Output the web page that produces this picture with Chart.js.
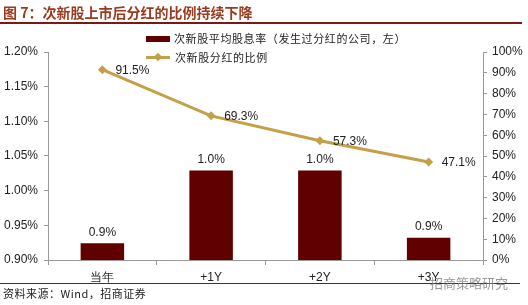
<!DOCTYPE html>
<html><head><meta charset="utf-8">
<script src="https://cdn.jsdelivr.net/npm/chart.js@4.4.1/dist/chart.umd.min.js"></script>
<style>
html,body{margin:0;padding:0;background:#fff;width:528px;height:305px;overflow:hidden;}
#wrap{position:relative;width:528px;height:305px;}
canvas{position:absolute;left:0;top:0;}
.t{position:absolute;white-space:nowrap;}
</style></head>
<body><div id="wrap">
<canvas id="c" width="528" height="305"></canvas>
<div class="t" style="left:3px;top:3px;font:bold 14px 'Noto Sans CJK SC';color:#9a3a1e;line-height:18px;">图 7：次新股上市后分红的比例持续下降</div>
<div style="position:absolute;left:0;top:22px;width:522px;height:2px;background:#7a1a12;"></div>
<div style="position:absolute;left:146px;top:36px;width:24px;height:6px;background:#600000;"></div>
<div class="t" style="left:174px;top:30px;font:11px 'Noto Sans CJK SC';letter-spacing:0.6px;color:#222;line-height:16px;">次新股平均股息率（发生过分红的公司，左）</div>
<div style="position:absolute;left:146px;top:56px;width:24px;height:3px;background:#c4a046;"></div>
<div style="position:absolute;left:155px;top:54px;width:6px;height:6px;background:#c4a046;transform:rotate(45deg);"></div>
<div class="t" style="left:175px;top:49px;font:11px 'Noto Sans CJK SC';letter-spacing:0.6px;color:#222;line-height:16px;">次新股分红的比例</div>
<div style="position:absolute;left:0;top:283px;width:520px;height:1px;background:#7a1a12;"></div>
<div class="t" style="left:3px;top:285px;font:11px 'Noto Sans CJK SC';letter-spacing:0.5px;color:#222;line-height:16px;">资料来源：Wind，招商证券</div>
<div class="t" style="left:430px;top:274px;font:13px 'Noto Sans CJK SC';color:rgba(120,120,120,0.75);line-height:18px;">招商策略研究</div>
</div>
<script>
const categories = ['当年', '+1Y', '+2Y', '+3Y'];
const dividendYield = [0.924, 1.029, 1.029, 0.932];
const yieldLabels = ['0.9%', '1.0%', '1.0%', '0.9%'];
const payoutRatio = [91.5, 69.3, 57.3, 47.1];
const payoutLabels = ['91.5%', '69.3%', '57.3%', '47.1%'];
const leftTicks = [0.90, 0.95, 1.00, 1.05, 1.10, 1.15, 1.20];
const rightTicks = [0, 10, 20, 30, 40, 50, 60, 70, 80, 90, 100];

const labelPlugin = {
  id: 'vals',
  afterDatasetsDraw(chart) {
    const ctx = chart.ctx;
    ctx.save();
    ctx.font = '12px "Liberation Sans", Arial';
    ctx.fillStyle = '#222';
    ctx.textBaseline = 'middle';
    chart.getDatasetMeta(0).data.forEach((el, i) => {
      ctx.textAlign = 'center';
      ctx.fillText(yieldLabels[i], el.x, el.y - 11);
    });
    chart.getDatasetMeta(1).data.forEach((el, i) => {
      ctx.textAlign = 'left';
      ctx.fillText(payoutLabels[i], el.x + 13, el.y + 1);
    });
    ctx.restore();
  }
};

const tickFont = { family: '"Liberation Sans", Arial', size: 12 };
new Chart(document.getElementById('c'), {
  data: {
    labels: categories,
    datasets: [
      { type: 'bar', label: '次新股平均股息率（发生过分红的公司，左）', data: dividendYield, yAxisID: 'y',
        backgroundColor: '#600000', categoryPercentage: 1, barPercentage: 0.4, order: 2 },
      { type: 'line', label: '次新股分红的比例', data: payoutRatio, yAxisID: 'y1',
        borderColor: '#c4a046', backgroundColor: '#c4a046', borderWidth: 3,
        pointStyle: 'rectRot', pointRadius: 4.5, pointBorderWidth: 0, tension: 0, order: 1 }
    ]
  },
  options: {
    responsive: false, animation: false, devicePixelRatio: 1,
    layout: { padding: { top: 52, left: 0, right: 0, bottom: 0 } },
    plugins: { legend: { display: false }, tooltip: { enabled: false } },
    scales: {
      x: {
        grid: { offset: true, drawOnChartArea: false, drawTicks: true, tickLength: 5, color: '#999' },
        border: { color: '#999' },
        ticks: { font: tickFont, color: '#222', padding: 5 },
        afterFit(s) { s.height = 45; }
      },
      y: {
        position: 'left', min: 0.9, max: 1.2,
        afterBuildTicks(s) { s.ticks = leftTicks.map(v => ({ value: v })); },
        grid: { drawOnChartArea: false, drawTicks: true, tickLength: 4, color: '#999' },
        border: { color: '#999' },
        ticks: { font: tickFont, color: '#222', padding: 6, callback: v => v.toFixed(2) + '%' },
        afterFit(s) { s.width = 48; }
      },
      y1: {
        position: 'right', min: 0, max: 100,
        afterBuildTicks(s) { s.ticks = rightTicks.map(v => ({ value: v })); },
        grid: { drawOnChartArea: false, drawTicks: true, tickLength: 4, color: '#999' },
        border: { color: '#999' },
        ticks: { font: tickFont, color: '#222', padding: 5, callback: v => v + '%' },
        afterFit(s) { s.width = 45; }
      }
    }
  },
  plugins: [labelPlugin]
});
</script>
</body></html>
